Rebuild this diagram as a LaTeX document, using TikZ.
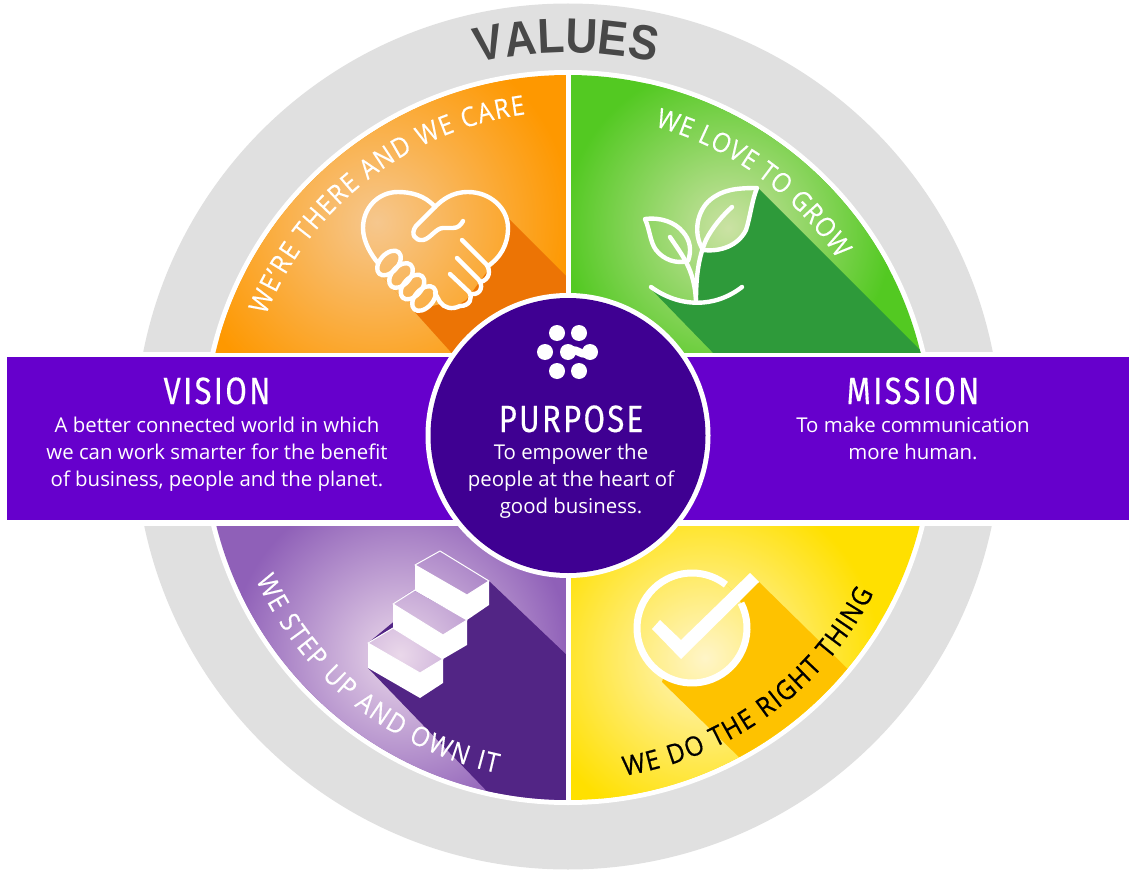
\documentclass[tikz,border=0pt]{standalone}
\usepackage{fontspec}
\setmainfont{Open Sans}
\newfontfamily\titlefont[FakeStretch=0.82,LetterSpace=6,FakeBold=0.3]{Fira Sans}
\newfontfamily\arcfontfam[FakeBold=0.2,FakeStretch=0.9]{Open Sans}
\newfontfamily\arcfontblack[FakeBold=0.6,FakeStretch=0.9]{Open Sans}
\newfontfamily\valuesfam[FakeStretch=0.9]{Liberation Sans}
\usetikzlibrary{decorations.text}
\definecolor{grayring}{HTML}{E0E0E0}
\definecolor{band}{HTML}{6600CC}
\definecolor{hub}{HTML}{3F0092}
\definecolor{valuesgray}{HTML}{484848}
\definecolor{obase}{HTML}{FE9800}\definecolor{oglow}{HTML}{F6C78E}\definecolor{oshadow}{HTML}{EC7405}
\definecolor{gbase}{HTML}{53C922}\definecolor{gglow}{HTML}{CBE2A4}\definecolor{gshadow}{HTML}{2E9A3A}
\definecolor{pbase}{HTML}{8F60B8}\definecolor{pglow}{HTML}{EAD8EA}\definecolor{pshadow}{HTML}{522585}
\definecolor{ybase}{HTML}{FFE000}\definecolor{yglow}{HTML}{FFF5C8}\definecolor{yshadow}{HTML}{FEC200}
\pgfdeclareradialshading{oshade}{\pgfpoint{0bp}{0bp}}{color(0bp)=(oglow); color(25bp)=(obase); color(50bp)=(obase)}
\pgfdeclareradialshading{gshade}{\pgfpoint{0bp}{0bp}}{color(0bp)=(gglow); color(25bp)=(gbase); color(50bp)=(gbase)}
\pgfdeclareradialshading{pshade}{\pgfpoint{0bp}{0bp}}{color(0bp)=(pglow); color(25bp)=(pbase); color(50bp)=(pbase)}
\pgfdeclareradialshading{yshade}{\pgfpoint{0bp}{0bp}}{color(0bp)=(yglow); color(25bp)=(ybase); color(50bp)=(ybase)}
\newcommand{\glowpaint}[4]{\fill[#1] (0,0) rectangle (1136,872); \shade[shading=#2] (#3) circle (#4);}
\newcommand{\arcfont}{\arcfontfam\fontsize{27}{27}\selectfont}
\newcommand{\arcfontb}{\arcfontblack\fontsize{27}{27}\selectfont}
\tikzset{
  icon/.style={draw=white,line width=4.4pt,line cap=round,line join=round},
  titletext/.style={text=white,font=\titlefont\fontsize{38}{38}\selectfont,anchor=base,inner sep=0pt},
  bodytext/.style={text=white,font=\fontsize{20.4}{27}\selectfont,align=center,anchor=base,inner sep=0pt},
}
\begin{document}
\begin{tikzpicture}[x=1pt,y=-1pt]
\useasboundingbox (0,0) rectangle (1136,872);
\fill[white] (0,0) rectangle (1136,872);
% grey ring and white gap
\fill[grayring] (568,436.5) circle (433);
\fill[white] (568,437.5) circle (367.5);
\fill[white] (0,352) rectangle (1136,526);

% orange quadrant
\begin{scope}
\clip (568,437.5) circle (362.5);
\clip (0,0) rectangle (566,352);
\glowpaint{obase}{oshade}{377,222}{195}
\fill[oshadow] (507,217) -- (570,280) -- (570,360) -- (458,360) -- (413,310) -- (440,240) -- cycle;
\begin{scope}
\clip (435,207) .. controls (425,195) and (410,192) .. (398,192) .. controls (378,192) and (363,208) .. (363,228) .. controls (363,242) and (372,256) .. (378,263) -- (376,270) -- (400,296) -- (420,312) -- (432,306) -- (440,304) -- (452,308) -- (466,300) -- (488,270) .. controls (500,258) and (508,245) .. (508,228) .. controls (508,208) and (490,192) .. (468,192) .. controls (455,192) and (444,197) .. (435,207) -- cycle;
\glowpaint{obase}{oshade}{377,222}{195}
\end{scope}
\end{scope}
% handshake heart
\draw[icon] (378,263) .. controls (372,256) and (363,242) .. (363,228) .. controls (363,208) and (378,192) .. (398,192) .. controls (410,192) and (425,195) .. (435,207);
\draw[icon] (488,266) .. controls (500,258) and (508,245) .. (508,228) .. controls (508,208) and (490,192) .. (468,192) .. controls (452,192) and (442,200) .. (435,207) -- (416,226) .. controls (410,234) and (415,241) .. (423,240) .. controls (430,239) and (436,228) .. (443,228) -- (453,228) .. controls (458,228) and (461,225) .. (463,221);
\draw[icon] (462,240) -- (486,264) .. controls (491,270) and (490,280) .. (480,282);
\draw[icon] (457,258) -- (478,279) .. controls (484,285) and (481,295) .. (472,294);
\draw[icon] (450,274) -- (469,292) .. controls (473,298) and (470,306) .. (460,306) .. controls (452,310) and (444,308) .. (440,302) -- (435,293);
\foreach \cx/\cy in {389/263,401/275.5,412.5/287,424/298.5}
  \draw[icon,rotate around={48:(\cx,\cy)}] (\cx,\cy) ellipse (14.5 and 9);

% green quadrant
\begin{scope}
\clip (568,437.5) circle (362.5);
\clip (570,0) rectangle (1136,352);
\glowpaint{gbase}{gshade}{728,228}{165}
\fill[gshadow] (758,188) -- (930,360) -- (720,360) -- (650,288) -- (665,296) -- (680,301) -- (695,303) -- (697,270) -- (701,250) -- (720,200) -- cycle;
\begin{scope}
\clip (757,188) .. controls (735,188) and (722,190) .. (710,200) .. controls (698,210) and (692,232) .. (703,250) .. controls (720,252) and (738,246) .. (746,230) .. controls (750,218) and (752,200) .. (757,188) -- cycle;
\glowpaint{gbase}{gshade}{728,228}{165}
\end{scope}
\end{scope}
% plant
\draw[icon] (757,188) .. controls (735,188) and (722,190) .. (710,200) .. controls (698,210) and (692,232) .. (703,250) .. controls (720,252) and (738,246) .. (746,230) .. controls (750,218) and (752,200) .. (757,188) -- cycle;
\draw[icon] (732,207) .. controls (722,216) and (712,228) .. (706,240) .. controls (699,256) and (696,275) .. (696,300);
\draw[icon] (645,219) .. controls (660,217) and (675,222) .. (683,232) .. controls (690,240) and (692,250) .. (688,261) .. controls (676,264) and (664,260) .. (656,250) .. controls (650,242) and (650,230) .. (645,219) -- cycle;
\draw[icon] (670,237) .. controls (676,246) and (682,254) .. (687,264) .. controls (692,274) and (695,285) .. (696,300);
\draw[icon] (651,287) .. controls (680,308) and (715,308) .. (742,287);

% purple quadrant
\begin{scope}
\clip (568,437.5) circle (362.5);
\clip (0,526) rectangle (566,872);
\glowpaint{pbase}{pshade}{400,655}{170}
\fill[pshadow] (489,581) -- (572,660) -- (572,810) -- (505,810) -- (368,668) -- (368,643) -- (420,600) -- cycle;
\begin{scope}
\clip (440,551) -- (489,581) -- (467,595) -- (415,565) -- cycle
      (413,590) -- (467,620) -- (443,635) -- (393,604) -- cycle
      (393,628) -- (443,659) -- (420,673) -- (368,643) -- cycle;
\glowpaint{pbase}{pshade}{400,655}{170}
\end{scope}
\end{scope}
% stairs
\fill[white] (415,565) -- (467,595) -- (489,581) -- (489,605) -- (467,620) -- (415,590) -- cycle;
\fill[white] (393,604) -- (443,635) -- (467,620) -- (467,645) -- (443,659) -- (393,628) -- cycle;
\fill[white] (368,643) -- (420,673) -- (443,659) -- (443,683) -- (420,698) -- (368,668) -- cycle;
\draw[white,line width=1pt,line join=round] (440,551) -- (489,581) -- (467,595) -- (415,565) -- cycle
      (415,590) -- (467,620) -- (443,635) -- (393,604) -- cycle
      (393,628) -- (443,659) -- (420,673) -- (368,643) -- cycle;

% yellow quadrant
\begin{scope}
\clip (568,437.5) circle (362.5);
\clip (570,526) rectangle (1136,872);
\glowpaint{ybase}{yshade}{705,658}{175}
\fill[yshadow] (759,582) -- (860,681) -- (860,760) -- (742,760) -- (662,682) -- (680,620) -- cycle;
\begin{scope}
\clip (692,628) circle (55);
\glowpaint{ybase}{yshade}{705,658}{175}
\end{scope}
\end{scope}
% clean white divider between the quadrants
\fill[white] (565.5,70) rectangle (570.5,805);
% check mark
\draw[white,line width=7pt] (692,628) ++(-27:55) arc (-27:308:55);
\fill[white] (652,629) -- (660,620) -- (681,640) -- (750,573) -- (759,582) -- (681,659) -- cycle;

% arc labels
\path[decorate,decoration={text along path,text align=fit to path,text={|\arcfont\color{white}|WE’RE THERE AND WE CARE}}] (568,437.5) ++(202:326) arc (202:262.5:326);
\path[decorate,decoration={text along path,text align=fit to path,text={|\arcfont\color{white}|WE LOVE TO GROW}}] (568,437.5) ++(285.6:323) arc (285.6:326.5:323);
\path[decorate,decoration={text along path,text align=fit to path,text={|\arcfont\color{white}|WE STEP UP AND OWN IT}}] (568,437.5) ++(155.5:343) arc (155.5:102:343);
\path[decorate,decoration={text along path,text align=fit to path,text={|\arcfontb\color{black}|WE DO THE RIGHT THING}}] (568,437.5) ++(80.5:343) arc (80.5:27:343);
\path[decorate,decoration={text along path,text align=center,text={|\valuesfam\bfseries\fontsize{49}{49}\selectfont\color{valuesgray}|VALUES}}] (568,437.5) ++(256.5:385) arc (256.5:283:385);

% band and hub
\fill[band] (7,357) rectangle (1129,520);
\fill[white] (568,435.5) circle (142.5);
\fill[hub] (568,435.5) circle (137.5);
% logo
\foreach \cx/\cy in {557/333,579/333,545/352,557/371,579/371,568/352,590/352}
  \fill[white] (\cx,\cy) circle (8);
\draw[white,line width=8pt] (572,350) .. controls (578,350) and (580,354) .. (586,354);

\node[titletext] (vision) at (217,404) {VISION};
\node[bodytext] (visiontext) at (217,486) {A better connected world in which\\we can work smarter for the benefit\\of business, people and the planet.};
\node[titletext] (mission) at (913,404) {MISSION};
\node[bodytext] (missiontext) at (913,459) {To make communication\\more human.};
\node[titletext] (purpose) at (571,432) {PURPOSE};
\node[bodytext] (purposetext) at (571,513) {To empower the\\people at the heart of\\good business.};
\end{tikzpicture}
\end{document}
